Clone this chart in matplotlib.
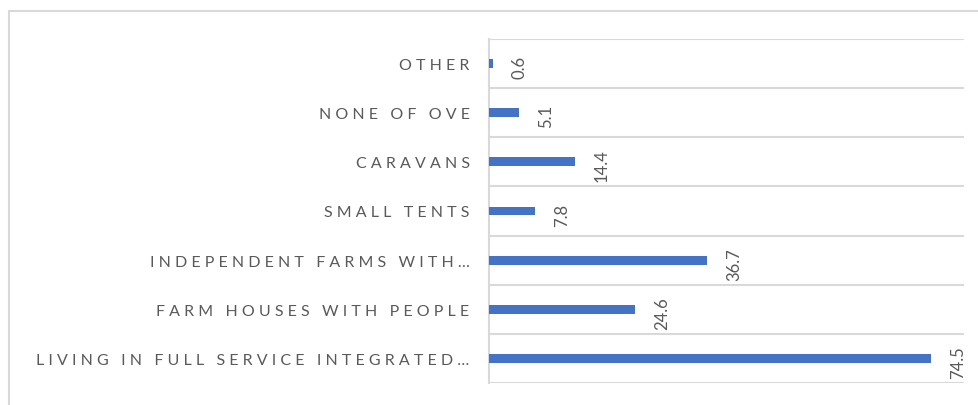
import matplotlib.pyplot as plt
from matplotlib.patches import Rectangle
import numpy as np

categories = [
    "LIVING IN FULL SERVICE INTEGRATED…",
    "FARM HOUSES WITH PEOPLE",
    "INDEPENDENT FARMS WITH…",
    "SMALL TENTS",
    "CARAVANS",
    "NONE OF OVE",
    "OTHER",
]
values = [74.5, 24.6, 36.7, 7.8, 14.4, 5.1, 0.6]

bar_color = '#4472C4'
grid_color = '#D9D9D9'
text_color = '#595959'


def spaced(s):
    # fake letter spacing like the office chart
    return " ".join(s)


plt.rcParams['font.family'] = ['Lato', 'DejaVu Sans']

fig = plt.figure(figsize=(9.79, 4.06), dpi=100)
W, H = 979, 406

# outer chart frame
fig.patches.append(Rectangle((9 / W, -0.1), 1.2, 1.1 - 12 / H, transform=fig.transFigure,
                             fill=False, edgecolor=grid_color, linewidth=1.5))

ax = fig.add_axes([489 / W, 1 - 384 / H, (964 - 489) / W, (384 - 40) / H])

y = np.arange(len(categories))
ax.barh(y, values, height=0.18, color=bar_color, zorder=3)

for yi, v in zip(y, values):
    ax.annotate(f"{v:.1f}", xy=(v, yi), xytext=(27, -3), textcoords='offset pixels',
                rotation=90, ha='center', va='center', fontsize=12, color=text_color)

ax.set_xlim(0, 80)
ax.set_ylim(-0.5, len(categories) - 0.5)
ax.set_yticks(y)
ax.set_yticklabels([spaced(c) for c in categories], fontsize=11.5, color=text_color)
ax.set_yticks(np.arange(-0.5, len(categories)), minor=True)
ax.tick_params(axis='y', which='both', length=0, pad=14)
ax.set_xticks([])
ax.grid(axis='y', which='minor', color=grid_color, linewidth=1.5)

for side in ['top', 'bottom', 'right']:
    ax.spines[side].set_visible(False)
ax.spines['left'].set_color(grid_color)
ax.spines['left'].set_linewidth(1.5)

fig.savefig('out.png', dpi=100)
